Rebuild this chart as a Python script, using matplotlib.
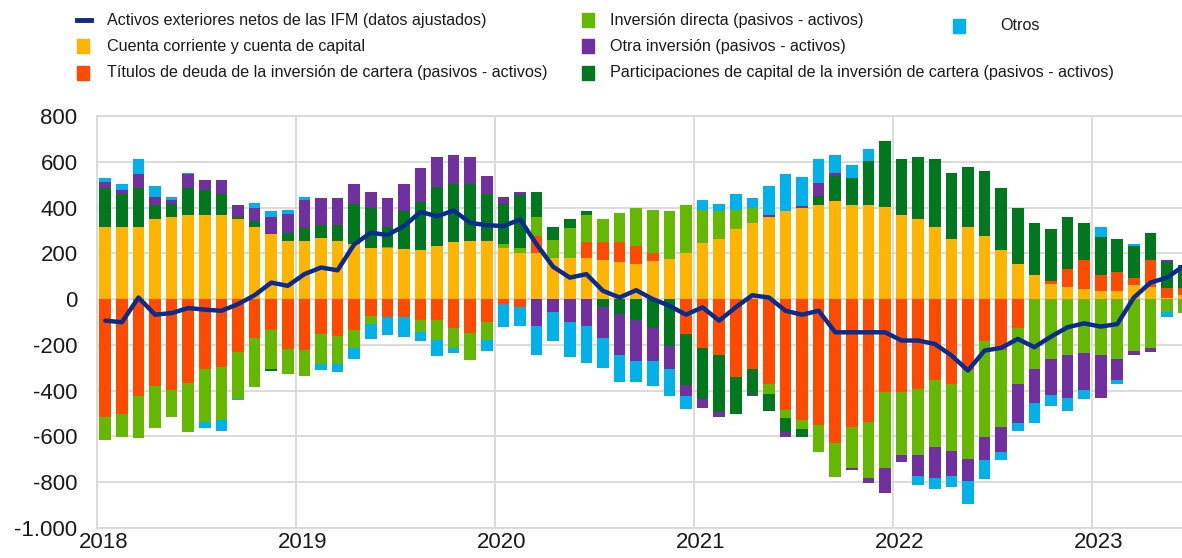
import numpy as np
import matplotlib
matplotlib.use("Agg")
import matplotlib.pyplot as plt
from matplotlib.patches import Rectangle
from matplotlib.lines import Line2D
from matplotlib.ticker import FuncFormatter, FixedLocator

plt.rcParams['font.family'] = ['Liberation Sans', 'DejaVu Sans']

# datos mensuales ene-2018 .. jun-2023 (mm EUR, lectura aproximada)
anios = [2018, 2019, 2020, 2021, 2022, 2023]

cuenta_corriente = [316, 316, 316, 351, 358, 367, 367, 367, 351, 316, 285, 256,
                    256, 265, 256, 239, 222, 222, 217, 213, 232, 249, 256, 256,
                    225, 203, 203, 181, 181, 181, 170, 160, 155, 167, 174, 203,
                    246, 264, 307, 333, 358, 384, 398, 409, 427, 409, 409, 401,
                    367, 351, 314, 264, 314, 275, 213, 155, 104, 65, 51, 43,
                    36, 36, 62, 51, 7, 20]
titulos_deuda = [-514, -500, -423, -381, -398, -365, -304, -297, -229, -170, -135, -217,
                 -222, -152, -159, -135, -72, -80, -80, -91, -91, -126, -149, -101,
                 -22, -33, 73, 0, 0, 68, 80, 90, 77, 36, 0, -152,
                 -213, -246, -341, -304, -372, -483, -526, -551, -627, -558, -536, -406,
                 -406, -391, -355, -372, -309, -185, -222, -126, 0, 14, 80, 128,
                 68, 84, 32, 120, 43, 30]
inversion_directa = [-101, -101, -185, -184, -116, -217, -232, -232, -206, -214, -170, -109,
                     -116, -130, -123, -78, -36, 5, 0, -54, -87, -87, -119, -78,
                     14, 22, 83, 76, 128, 117, 101, 125, 167, 188, 210, 206,
                     145, 123, 84, 65, -43, -35, -43, -116, -152, -181, -246, -333,
                     -275, -290, -293, -290, -391, -416, -336, -246, -304, -261, -246, -236,
                     -246, -261, -227, -213, -55, -60]
participaciones = [170, 145, 170, 59, 59, 119, 109, 93, 7, 25, -7, 33,
                   55, 58, 67, 177, 177, 90, 167, 213, 256, 254, 246, 203,
                   177, 232, 110, 59, 42, 17, -33, -65, -91, -126, -203, -225,
                   -222, -246, -159, -116, -74, -62, -32, 43, 109, 120, 196, 290,
                   245, 270, 297, 287, 262, 285, 272, 243, 229, 229, 227, 162,
                   168, 143, 138, 119, 113, 100]
otra_inversion = [26, 17, 61, 35, 17, 61, 43, 59, 51, 58, 72, 84,
                  123, 119, 119, 87, 70, 123, 119, 149, 132, 128, 117, 77,
                  29, 12, -116, -58, -101, -116, -136, -181, -180, -145, -101, -48,
                  -41, -22, 0, -4, 9, -22, 7, 55, 17, -7, -22, -109,
                  -29, -91, -135, -110, -94, -101, -109, -171, -152, -159, -184, -162,
                  -184, -94, -16, -19, 7, 0]
otros = [17, 26, 65, 48, 14, 5, -29, -46, -7, 22, 26, 17,
         10, -29, -36, -48, -65, -77, -87, -36, -72, -22, 0, -46,
         -101, -83, -126, -123, -152, -162, -132, -116, -91, -110, -119, -57,
         43, 29, 68, 43, 126, 162, 130, 104, 77, 58, 51, 0,
         0, -39, -46, -49, -101, -83, -36, -32, -87, -46, -59, -38,
         42, -17, 7, 0, -25, 0]
activos_ifm = [-94, -101, 7, -68, -61, -39, -46, -51, -22, 17, 72, 58,
               109, 138, 126, 239, 290, 280, 319, 381, 362, 387, 333, 323,
               319, 348, 239, 141, 94, 109, 36, 7, 39, 0, -29, -68,
               -36, -94, -36, 17, 7, -51, -68, -51, -145, -145, -145, -145,
               -181, -181, -196, -246, -312, -225, -213, -174, -210, -164, -123, -106,
               -120, -109, 7, 72, 94, 145]

nombres = ["Cuenta corriente y cuenta de capital",
           "Títulos de deuda de la inversión de cartera (pasivos - activos)",
           "Inversión directa (pasivos - activos)",
           "Participaciones de capital de la inversión de cartera (pasivos - activos)",
           "Otra inversión (pasivos - activos)",
           "Otros"]
colores = ['#FFB400', '#FF4B00', '#65B800', '#00781E', '#7030A0', '#00B1EA']
color_linea = '#0A2C8F'
nombre_linea = "Activos exteriores netos de las IFM (datos ajustados)"

fig = plt.figure(figsize=(11.82, 5.58), dpi=100)
ax = fig.add_axes([97 / 1182, 1 - 528 / 558, 1 - 97 / 1182, (528 - 116) / 558])

n = len(activos_ifm)
x = np.arange(n) + 0.5
base_pos = np.zeros(n)
base_neg = np.zeros(n)
for vals, col in zip([cuenta_corriente, titulos_deuda, inversion_directa,
                      participaciones, otra_inversion, otros], colores):
    v = np.array(vals, dtype=float)
    pos = np.where(v > 0, v, 0)
    neg = np.where(v < 0, v, 0)
    ax.bar(x, pos, bottom=base_pos, width=0.7, color=col, linewidth=0, zorder=2)
    ax.bar(x, neg, bottom=base_neg, width=0.7, color=col, linewidth=0, zorder=2)
    base_pos += pos
    base_neg += neg

ax.plot(x, activos_ifm, color=color_linea, lw=3.2, zorder=3, solid_capstyle='round')

ax.set_xlim(0, 65.4)
ax.set_ylim(-1000, 800)
ax.set_yticks(np.arange(-1000, 801, 200))
ax.yaxis.set_major_formatter(FuncFormatter(lambda v, p: f"{v:,.0f}".replace(",", ".")))
ax.xaxis.set_major_locator(FixedLocator([12 * i for i in range(len(anios))]))
ax.xaxis.set_major_formatter(FuncFormatter(lambda v, p: ""))
ax.xaxis.set_minor_locator(FixedLocator([12 * i + 0.4 for i in range(len(anios))]))
ax.xaxis.set_minor_formatter(FuncFormatter(lambda v, p: str(anios[int(round((v - 0.4) / 12))])))
ax.tick_params(axis='both', which='both', length=0, labelsize=16, colors='#1a1a1a')
ax.tick_params(axis='y', pad=14)
ax.tick_params(axis='x', which='minor', pad=3)
ax.grid(True, which='major', color='#d9d9d9', lw=1.3, zorder=0)
ax.set_axisbelow(True)
for s in ['left', 'top', 'bottom']:
    ax.spines[s].set_color('#d9d9d9')
    ax.spines[s].set_linewidth(1.3)
ax.spines['right'].set_visible(False)

# leyenda manual en tres columnas
fs_ley = 11.6
def entrada(xp, yp, col, texto, xt, linea=False):
    xf, yf = xp / 1182, 1 - yp / 558
    if linea:
        fig.add_artist(Line2D([xf, (xp + 14) / 1182], [yf, yf], color=col, lw=3.5,
                              transform=fig.transFigure))
    else:
        fig.add_artist(Rectangle((xf, yf - 7 / 558), 12 / 1182, 14 / 558,
                                 color=col, transform=fig.transFigure))
    fig.text(xt / 1182, yf, texto, fontsize=fs_ley, va='center', ha='left', color='#1a1a1a')

entrada(77, 20, color_linea, nombre_linea, 107, linea=True)
entrada(77, 46, colores[0], nombres[0], 107)
entrada(77, 73, colores[1], nombres[1], 107)
entrada(582, 20, colores[2], nombres[2], 610)
entrada(582, 46, colores[4], nombres[4], 610)
entrada(582, 73, colores[3], nombres[3], 610)
entrada(953, 26, colores[5], nombres[5], 1000)

fig.savefig("out.png", dpi=100)
